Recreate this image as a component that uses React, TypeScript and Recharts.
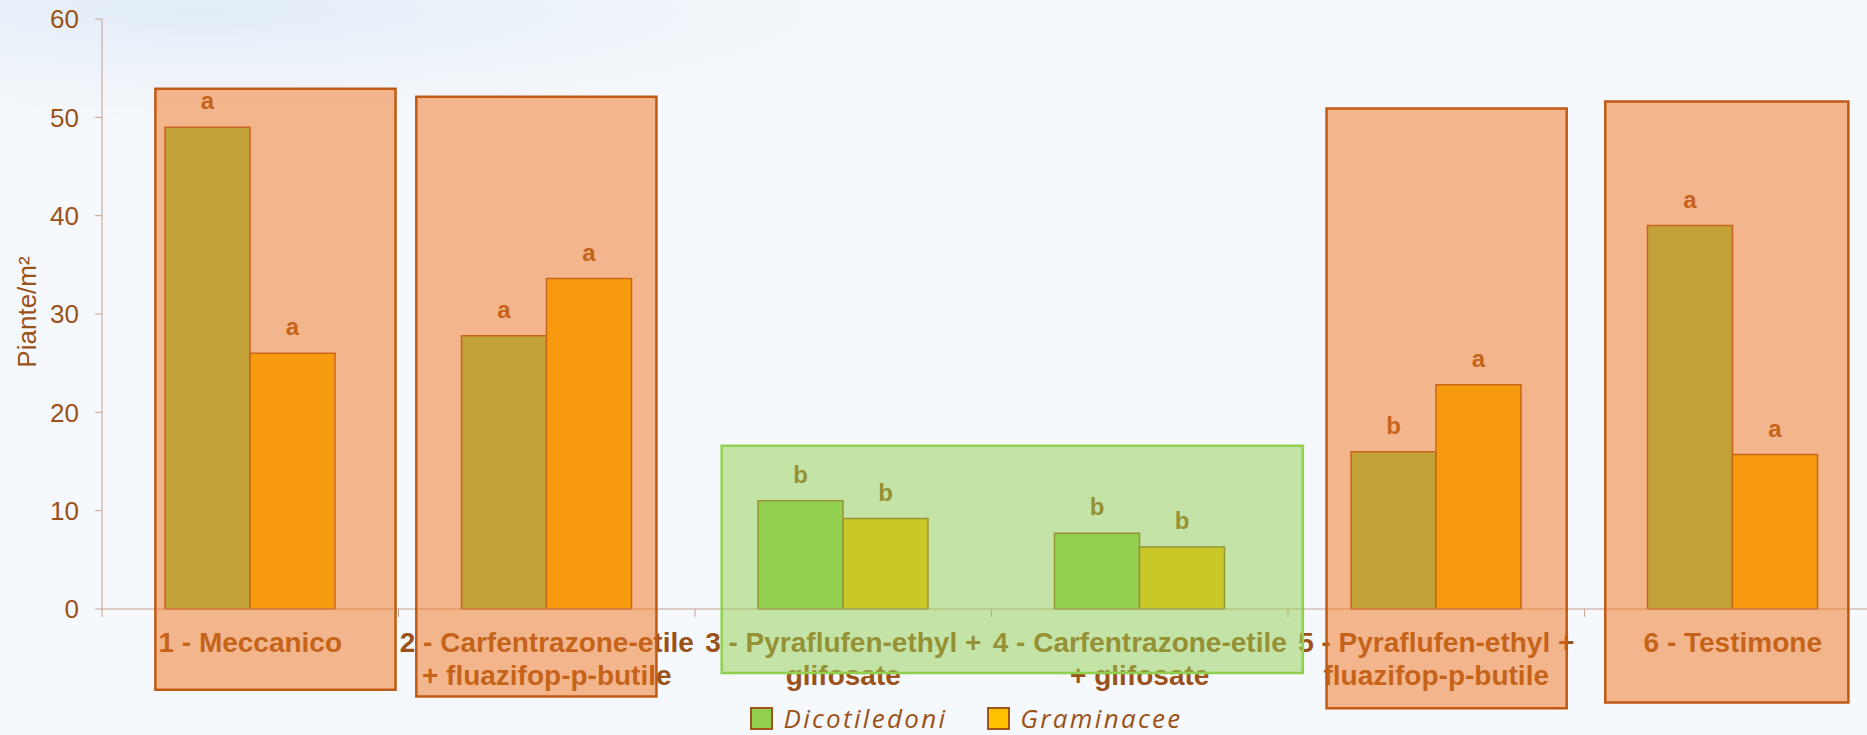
import React from "react";
import { Bar, BarChart, Label, LabelList, Legend, ReferenceArea, ReferenceLine, XAxis, YAxis } from "recharts";

const categories = [
  "1 - Meccanico",
  "2 - Carfentrazone-etile + fluazifop-p-butile",
  "3 - Pyraflufen-ethyl + glifosate",
  "4 - Carfentrazone-etile + glifosate",
  "5 - Pyraflufen-ethyl + fluazifop-p-butile",
  "6 - Testimone",
];
const categoryLines = [
  ["1 - Meccanico"],
  ["2 - Carfentrazone-etile", "+ fluazifop-p-butile"],
  ["3 - Pyraflufen-ethyl +", "glifosate"],
  ["4 - Carfentrazone-etile", "+ glifosate"],
  ["5 - Pyraflufen-ethyl +", "fluazifop-p-butile"],
  ["6 - Testimone"],
];
const dicotiledoni = [49.0, 27.8, 11.0, 7.7, 16.0, 39.0];
const graminacee = [26.0, 33.6, 9.2, 6.3, 22.8, 15.7];
const dicotLetters = ["a", "a", "b", "b", "b", "a"];
const gramLetters = ["a", "a", "b", "b", "a", "a"];
const yTicks = [0, 10, 20, 30, 40, 50, 60];
const boundaryTicks = [0, 1, 2, 3, 4, 5, 6];

// highlight frames in axis units (x = category slot 0..6, y = piante/m2)
const orangeFrames = [
  { x1: 0.18, x2: 0.99, y1: -8.2, y2: 52.9 },
  { x1: 1.06, x2: 1.87, y1: -8.9, y2: 52.1 },
  { x1: 4.13, x2: 4.94, y1: -10.1, y2: 50.9 },
  { x1: 5.07, x2: 5.89, y1: -9.5, y2: 51.6 },
];
const greenFrames = [{ x1: 2.09, x2: 4.05, y1: -6.5, y2: 16.6 }];

const data = categories.map((name, i) => ({
  name,
  slot: i + 0.5,
  dicot: dicotiledoni[i],
  gram: graminacee[i],
  dicotSig: dicotLetters[i],
  gramSig: gramLetters[i],
}));

const TEXT = "#9A5219";
const AXIS = "#C9A28E";
const BAR_STROKE = "#A0561A";
const FONT = "'Liberation Sans', Arial, sans-serif";

function CategoryTick(props: any) {
  const { x, y, payload } = props;
  const lines = categoryLines[categories.indexOf(payload.value)] || [payload.value];
  return (
    <text x={x} y={y} textAnchor="middle" fill={TEXT} fontSize={28} fontWeight="bold" fontFamily={FONT}>
      {lines.map((l, i) => (
        <tspan key={i} x={x} dy={i === 0 ? 35 : 33}>
          {l}
        </tspan>
      ))}
    </text>
  );
}

function YTitle(props: any) {
  const { x, y, height } = props.viewBox;
  const cx = x + 27;
  const cy = y + height / 2 - 2;
  return (
    <text
      x={cx}
      y={cy}
      transform={`rotate(-90 ${cx} ${cy})`}
      textAnchor="middle"
      dominantBaseline="central"
      fill={TEXT}
      fontSize={26}
      fontFamily={FONT}
    >
      Piante/m²
    </text>
  );
}

function LegendContent(props: any) {
  const items = props.payload || [];
  return (
    <div
      style={{
        display: "flex",
        justifyContent: "center",
        alignItems: "center",
        height: 30,
        gap: 40,
        paddingLeft: 52,
      }}
    >
      {items.map((it: any) => (
        <div key={it.value} style={{ display: "flex", alignItems: "center", gap: 10 }}>
          <span
            style={{
              width: 19,
              height: 19,
              background: it.color,
              border: `2px solid ${BAR_STROKE}`,
              display: "inline-block",
            }}
          />
          <span
            style={{
              color: TEXT,
              fontFamily: "'Open Sans', sans-serif",
              fontStyle: "italic",
              fontSize: 26,
              letterSpacing: 2.3,
            }}
          >
            {it.value}
          </span>
        </div>
      ))}
    </div>
  );
}

export default function App() {
  return (
    <div
      style={{
        position: "absolute",
        left: 0,
        top: 0,
        width: 1867,
        height: 735,
        overflow: "hidden",
        background:
          "radial-gradient(ellipse 700px 110px at 200px 10px, #E3EDF7 0%, rgba(245,248,252,0) 100%), #F5F8FC",
      }}
    >
      <BarChart
        width={1890}
        height={735}
        data={data}
        margin={{ top: 19, right: 9, left: 0, bottom: 2 }}
        barGap={0}
      >
        <XAxis
          dataKey="name"
          interval={0}
          tickLine={false}
          stroke={AXIS}
          height={94}
          tick={<CategoryTick />}
        />
        <XAxis
          xAxisId="grid"
          dataKey="slot"
          type="number"
          scale="linear"
          domain={[0, 6]}
          allowDataOverflow
          hide
        />
        <YAxis
          domain={[0, 60]}
          ticks={yTicks}
          interval={0}
          width={102}
          tickSize={7}
          tickMargin={16}
          stroke={AXIS}
          tick={{ fill: TEXT, fontSize: 26, fontFamily: FONT }}
        >
          <Label content={<YTitle />} />
        </YAxis>
        <Legend verticalAlign="bottom" content={<LegendContent />} />
        {boundaryTicks.map((t) => (
          <ReferenceLine
            key={`t${t}`}
            xAxisId="grid"
            segment={[
              { x: t, y: 0 },
              { x: t, y: -0.8 },
            ]}
            ifOverflow="visible"
            stroke={AXIS}
            strokeWidth={1}
          />
        ))}
        <Bar
          dataKey="dicot"
          name="Dicotiledoni"
          fill="#92D050"
          stroke={BAR_STROKE}
          strokeWidth={1.5}
          barSize={85}
          isAnimationActive={false}
        >
          <LabelList dataKey="dicotSig" position="top" offset={18} fill={TEXT} fontSize={24} fontWeight="bold" fontFamily={FONT} />
        </Bar>
        <Bar
          dataKey="gram"
          name="Graminacee"
          fill="#FFC000"
          stroke={BAR_STROKE}
          strokeWidth={1.5}
          barSize={85}
          isAnimationActive={false}
        >
          <LabelList dataKey="gramSig" position="top" offset={18} fill={TEXT} fontSize={24} fontWeight="bold" fontFamily={FONT} />
        </Bar>
        {orangeFrames.map((f, i) => (
          <ReferenceArea
            key={`o${i}`}
            xAxisId="grid"
            x1={f.x1}
            x2={f.x2}
            y1={f.y1}
            y2={f.y2}
            ifOverflow="visible"
            fill="#F1741C"
            fillOpacity={0.5}
            stroke="#C05A14"
            strokeWidth={2.5}
            zIndex={2500}
          />
        ))}
        {greenFrames.map((f, i) => (
          <ReferenceArea
            key={`g${i}`}
            xAxisId="grid"
            x1={f.x1}
            x2={f.x2}
            y1={f.y1}
            y2={f.y2}
            ifOverflow="visible"
            fill="#92D050"
            fillOpacity={0.5}
            stroke="#92D050"
            strokeWidth={2.5}
            zIndex={2500}
          />
        ))}
      </BarChart>
    </div>
  );
}
